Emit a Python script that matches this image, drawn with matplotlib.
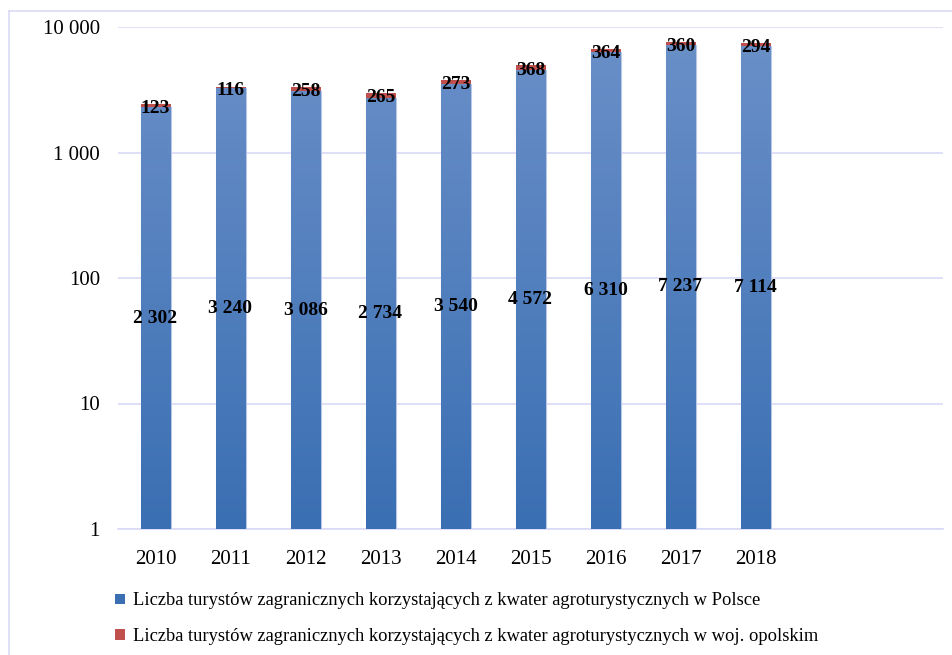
import matplotlib
matplotlib.use("Agg")
import matplotlib.pyplot as plt
import numpy as np
from matplotlib.patches import Patch
from matplotlib.colors import LinearSegmentedColormap

plt.rcParams['font.family'] = ['Liberation Serif', 'DejaVu Serif']

# data
years = ['2010', '2011', '2012', '2013', '2014', '2015', '2016', '2017', '2018']
polska = [2302, 3240, 3086, 2734, 3540, 4572, 6310, 7237, 7114]
opolskie = [123, 116, 258, 265, 273, 368, 364, 360, 294]
n_slots = 11  # excel axis keeps two empty categories on the right

label_pl = 'Liczba turystów zagranicznych korzystających z kwater agroturystycznych w Polsce'
label_op = 'Liczba turystów zagranicznych korzystających z kwater agroturystycznych w woj. opolskim'

blue_top = '#6b90c8'
blue_bot = '#3a6fb3'
red = '#c0504d'
grid_col = '#d9d9f7'

fig = plt.figure(figsize=(9.52, 6.55), dpi=100)
ax = fig.add_axes([118/952, 1 - 529/655, (943 - 118)/952, (529 - 27)/655])

x = np.arange(len(years))
ax.set_yscale('log')
ax.set_ylim(1, 10000)
ax.set_xlim(-0.5, n_slots - 0.5)

bars = ax.bar(x, polska, width=0.4, color=blue_bot, edgecolor='#b8c8e6', linewidth=0.8, zorder=3)
ax.bar(x, opolskie, bottom=polska, width=0.4, color=red, edgecolor=red, linewidth=0, zorder=3)

# vertical gradient on the blue bars
cmap = LinearSegmentedColormap.from_list('g', [blue_bot, blue_top])
grad = np.linspace(0, 1, 256).reshape(-1, 1)
for b in bars:
    im = ax.imshow(grad, cmap=cmap, aspect='auto', origin='lower',
                   extent=[0, 1, 0, 1], transform=ax.transAxes, zorder=3.5)
    im.set_clip_path(b)

# data labels
for i in range(len(years)):
    ax.text(x[i], np.sqrt(polska[i]), f'{polska[i]:,}'.replace(',', ' '),
            ha='center', va='center', fontsize=14, fontweight='bold', zorder=5)
    top = polska[i] + opolskie[i]
    ax.text(x[i], np.sqrt(polska[i] * top) * 0.95, str(opolskie[i]),
            ha='center', va='center', fontsize=14, fontweight='bold', zorder=5)

ticks = [1, 10, 100, 1000, 10000]
ax.set_yticks(ticks)
ax.set_yticklabels([f'{t:,}'.replace(',', ' ') for t in ticks])
ax.minorticks_off()
ax.set_xticks(x)
ax.set_xticklabels(years)
ax.tick_params(axis='both', length=0, labelsize=15)
ax.tick_params(axis='y', pad=13)
ax.tick_params(axis='x', pad=15)

ax.grid(axis='y', color=grid_col, linewidth=1.2, zorder=0)
for s in ['top', 'right', 'left']:
    ax.spines[s].set_visible(False)
ax.spines['bottom'].set_color(grid_col)
ax.spines['bottom'].set_linewidth(1.2)

handles = [Patch(facecolor=blue_bot, label=label_pl),
           Patch(facecolor=red, label=label_op)]
fig.legend(handles=handles, loc='upper left', bbox_to_anchor=(108/952, 1 - 585/655),
           frameon=False, fontsize=13.3, handlelength=0.5, handleheight=0.5,
           handletextpad=0.45, labelspacing=1.0, borderaxespad=0)

# outer frame of the chart area
fig.add_artist(plt.Line2D([9/952, 9/952], [0, 1 - 11/655], color=grid_col, linewidth=1.2))
fig.add_artist(plt.Line2D([9/952, 1], [1 - 11/655, 1 - 11/655], color=grid_col, linewidth=1.2))

fig.savefig('out.png', dpi=100)
